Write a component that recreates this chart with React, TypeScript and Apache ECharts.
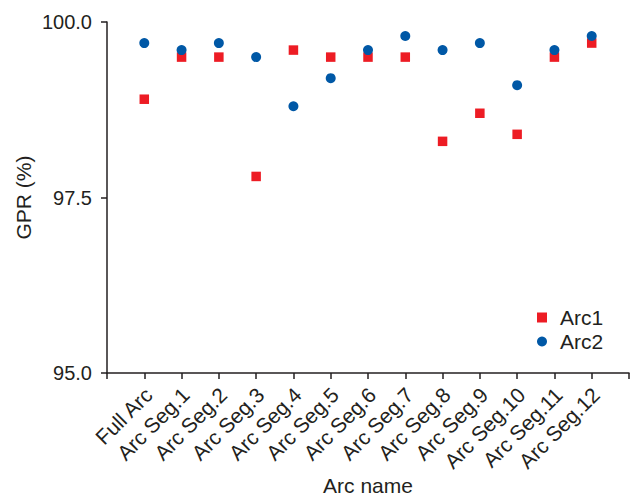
import React, { useEffect, useRef } from "react";
import * as echarts from "echarts";

const categories = [
  "Full Arc",
  "Arc Seg.1",
  "Arc Seg.2",
  "Arc Seg.3",
  "Arc Seg.4",
  "Arc Seg.5",
  "Arc Seg.6",
  "Arc Seg.7",
  "Arc Seg.8",
  "Arc Seg.9",
  "Arc Seg.10",
  "Arc Seg.11",
  "Arc Seg.12",
];

const arc1 = [98.9, 99.5, 99.5, 97.8, 99.6, 99.5, 99.5, 99.5, 98.3, 98.7, 98.4, 99.5, 99.7];
const arc2 = [99.7, 99.6, 99.7, 99.5, 98.8, 99.2, 99.6, 99.8, 99.6, 99.7, 99.1, 99.6, 99.8];

const yTicks = [95.0, 97.5, 100.0];

const FONT = "'Liberation Sans', Arial, Helvetica, sans-serif";
const AXIS_COLOR = "#231F20";
const TEXT_COLOR = "#231F20";

export default function App() {
  const ref = useRef<HTMLDivElement>(null);

  useEffect(() => {
    if (!ref.current) return;
    const chart = echarts.init(ref.current, undefined, { renderer: "svg" });
    const axisCats = ["", ...categories, ""];
    chart.setOption({
      animation: false,
      textStyle: { fontFamily: FONT },
      grid: {
        left: 107,
        right: 4,
        top: 22,
        bottom: 125,
        containLabel: false,
        outerBoundsMode: "none",
      },
      legend: {
        orient: "vertical",
        left: 532,
        top: 302,
        itemWidth: 10,
        itemHeight: 10,
        itemGap: 3,
        textStyle: { fontSize: 21, lineHeight: 20, color: TEXT_COLOR, fontFamily: FONT, padding: [0, 0, 0, 8] },
        data: [
          { name: "Arc1", icon: "rect" },
          { name: "Arc2", icon: "circle" },
        ],
      },
      xAxis: {
        type: "category",
        data: axisCats,
        boundaryGap: false,
        name: "Arc name",
        nameLocation: "middle",
        nameGap: 102,
        nameMoveOverlap: false,
        nameTextStyle: { fontSize: 21, color: TEXT_COLOR, fontFamily: FONT },
        axisLine: { lineStyle: { color: AXIS_COLOR, width: 1.5 } },
        axisTick: { show: true, interval: 0, length: 6, lineStyle: { color: AXIS_COLOR, width: 1.5 } },
        axisLabel: {
          interval: 0,
          rotate: 45,
          margin: 14,
          fontSize: 21,
          lineHeight: 12,
          verticalAlign: "top",
          color: TEXT_COLOR,
          fontFamily: FONT,
        },
        splitLine: { show: false },
      },
      yAxis: {
        type: "value",
        min: 95,
        max: 100,
        interval: 2.5,
        name: "GPR (%)",
        nameLocation: "middle",
        nameGap: 73,
        nameMoveOverlap: false,
        nameTextStyle: { fontSize: 21, color: TEXT_COLOR, fontFamily: FONT },
        axisLine: { show: true, lineStyle: { color: AXIS_COLOR, width: 1.5 } },
        axisTick: { show: true, length: 6, lineStyle: { color: AXIS_COLOR, width: 1.5 } },
        axisLabel: {
          margin: 15,
          fontSize: 20,
          color: TEXT_COLOR,
          fontFamily: FONT,
          formatter: (v: number) => (yTicks.includes(v) ? v.toFixed(1) : ""),
        },
        splitLine: { show: false },
      },
      series: [
        {
          name: "Arc1",
          type: "scatter",
          symbol: "rect",
          symbolSize: 9.5,
          itemStyle: { color: "#ED1C24", opacity: 1 },
          data: categories.map((c, i) => [c, arc1[i]]),
          z: 2,
        },
        {
          name: "Arc2",
          type: "scatter",
          symbol: "circle",
          symbolSize: 10,
          itemStyle: { color: "#0058A6", opacity: 1 },
          data: categories.map((c, i) => [c, arc2[i]]),
          z: 3,
        },
      ],
    });
    return () => chart.dispose();
  }, []);

  return <div ref={ref} style={{ position: "absolute", left: 0, top: 0, width: 633, height: 498 }} />;
}
